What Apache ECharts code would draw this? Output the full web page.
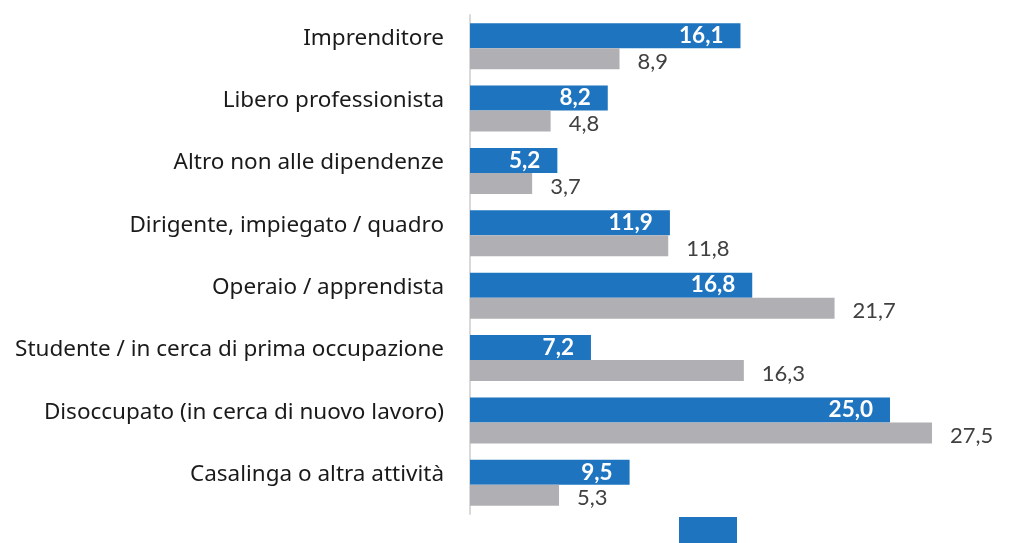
<!DOCTYPE html>
<html>
<head>
<meta charset="utf-8">
<script src="https://cdn.jsdelivr.net/npm/echarts@6/dist/echarts.min.js"></script>
<style>
  html, body { margin: 0; padding: 0; background: #ffffff; }
  #chart { width: 1016px; height: 543px; }
</style>
</head>
<body>
<div id="chart"></div>
<script>
// Categorie di condizione professionale (dall'alto verso il basso)
const categories = [
  'Imprenditore',
  'Libero professionista',
  'Altro non alle dipendenze',
  'Dirigente, impiegato / quadro',
  'Operaio / apprendista',
  'Studente / in cerca di prima occupazione',
  'Disoccupato (in cerca di nuovo lavoro)',
  'Casalinga o altra attività'
];

// Valori percentuali delle due serie
const seriesNames = ['Serie 1', 'Serie 2'];
const blueValues = [16.1, 8.2, 5.2, 11.9, 16.8, 7.2, 25.0, 9.5];
const grayValues = [8.9, 4.8, 3.7, 11.8, 21.7, 16.3, 27.5, 5.3];

const fmt = p => p.value.toFixed(1).replace('.', ',');

const chart = echarts.init(document.getElementById('chart'), null, { renderer: 'canvas' });

chart.setOption({
  backgroundColor: '#ffffff',
  animation: false,
  legend: {
    orient: 'vertical',
    left: 674,
    top: 512,
    itemWidth: 58,
    itemHeight: 70,
    icon: 'rect',
    textStyle: { fontSize: 16, color: '#404040', fontFamily: 'Lato' },
    data: [seriesNames[0]]
  },
  grid: {
    left: 470,
    top: 15,
    width: 504,
    height: 499,
    containLabel: false
  },
  xAxis: {
    type: 'value',
    min: 0,
    max: 30,
    show: false
  },
  yAxis: {
    type: 'category',
    inverse: true,
    data: categories,
    axisLine: { show: true, lineStyle: { color: '#d9d9d9', width: 2 } },
    axisTick: { show: false },
    axisLabel: {
      margin: 26,
      fontFamily: 'Noto Sans',
      fontSize: 22.5,
      lineHeight: 16,
      verticalAlign: 'bottom',
      color: '#1a1a1a'
    }
  },
  series: [
    {
      name: seriesNames[0],
      type: 'bar',
      data: blueValues,
      barWidth: 25,
      barGap: '0%',
      itemStyle: { color: '#1f74c0' },
      label: {
        show: true,
        position: 'insideRight',
        offset: [-12, 0],
        formatter: fmt,
        color: '#ffffff',
        fontWeight: 'bold',
        fontFamily: 'Lato',
        fontSize: 22.5
      }
    },
    {
      name: seriesNames[1],
      type: 'bar',
      data: grayValues,
      barWidth: 21,
      barGap: '0%',
      itemStyle: { color: '#b0afb3' },
      label: {
        show: true,
        position: 'right',
        distance: 18,
        offset: [0, 3],
        formatter: fmt,
        color: '#404040',
        fontFamily: 'Lato',
        fontSize: 22
      }
    }
  ]
});
</script>
</body>
</html>
